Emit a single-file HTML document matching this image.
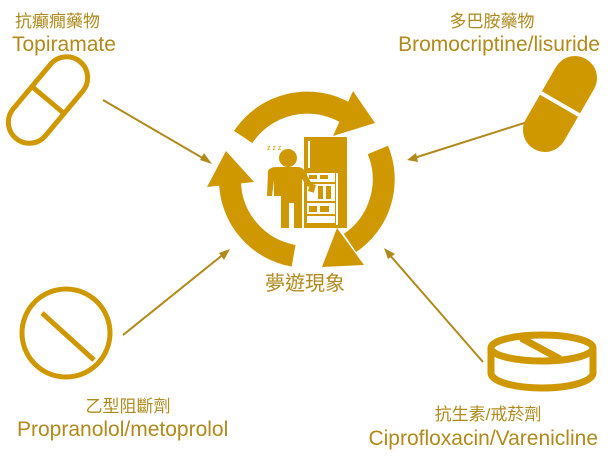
<!DOCTYPE html>
<html><head><meta charset="utf-8"><style>
html,body{margin:0;padding:0;background:#fff;}
svg{display:block;}
text{font-family:"Liberation Sans","Noto Sans CJK TC",sans-serif;fill:#b08a1c;}
</style></head><body>
<svg width="612" height="461" viewBox="0 0 612 461" xmlns="http://www.w3.org/2000/svg">
<g fill="#cf9800" stroke="none">
<!-- cycle arcs (center 307,180 r 77) -->
<path d="M243.2,137 A77,77 0 0 1 346,113" fill="none" stroke="#cf9800" stroke-width="22"/>
<polygon points="353,91 375,123 333,136"/>
<path d="M377.9,149.9 A77,77 0 0 1 350,243" fill="none" stroke="#cf9800" stroke-width="22"/>
<polygon points="337,228 364,265 322,267"/>
<path d="M293.6,255.8 A77,77 0 0 1 230,182" fill="none" stroke="#cf9800" stroke-width="22"/>
<polygon points="207,187 254,182 226,151"/>
<!-- fridge -->
<rect x="304" y="137" width="43" height="91"/>
<rect x="308" y="141" width="2" height="27" fill="#fff"/>
<rect x="307" y="173" width="28" height="50" fill="#fff"/>
<rect x="336" y="173" width="2" height="52" fill="#fff"/>
<rect x="309" y="175" width="8" height="4"/><rect x="320" y="175" width="8" height="4"/>
<rect x="307" y="182" width="28" height="2"/>
<rect x="318" y="186" width="5" height="13"/><rect x="326" y="186" width="5" height="13"/>
<rect x="307" y="201" width="28" height="2"/>
<rect x="309" y="206" width="8" height="6"/><rect x="320" y="206" width="9" height="6"/>
<rect x="307" y="214" width="28" height="2"/>
<!-- person -->
<circle cx="288" cy="158" r="9"/>
<path d="M268,171 Q270,167 276,167 L298,167 Q303,167 305,172 L312,184 L308,187 L302,179 L302,228 L294,228 L294,203 L289,203 L289,228 L281,228 L281,196 L274,196 L274,180 L272,196 L267,196 Z"/>
<rect x="309" y="184" width="6" height="8" transform="rotate(15 312 188)"/>
</g>
<text x="267" y="150" font-size="7" style="fill:#cf9800">z z z</text>
<!-- connectors -->
<g stroke="#b08a1c" stroke-width="2" fill="#b08a1c">
<line x1="103" y1="100" x2="206" y2="160"/>
<line x1="540" y1="118" x2="414" y2="158"/>
<line x1="123" y1="335" x2="225" y2="253"/>
<line x1="483" y1="362" x2="388" y2="253"/>
</g>
<g fill="#b08a1c">
<polygon points="212,164 200,160 204,153"/>
<polygon points="407,160 416,153 418,162"/>
<polygon points="230,249 224,260 219,253"/>
<polygon points="384,248 395,254 388,259"/>
</g>
<!-- top-left capsule -->
<g transform="translate(48,100) rotate(-50)" fill="none" stroke="#cf9800" stroke-width="5">
<rect x="-50" y="-21" width="100" height="42" rx="21"/>
<line x1="0" y1="-21" x2="0" y2="21"/>
</g>
<!-- top-right capsule -->
<g transform="translate(560,104) rotate(-60)">
<rect x="-52" y="-22" width="104" height="44" rx="22" fill="#cf9800"/>
<line x1="0" y1="-23" x2="0" y2="23" stroke="#fff" stroke-width="4"/>
</g>
<!-- bottom-left circle -->
<circle cx="66" cy="333" r="44" fill="none" stroke="#cf9800" stroke-width="5"/>
<line x1="42" y1="313" x2="94" y2="360" stroke="#cf9800" stroke-width="5"/>
<!-- bottom-right disk -->
<g fill="none" stroke="#cf9800" stroke-width="7">
<ellipse cx="542" cy="348" rx="51" ry="13"/>
<path d="M491,348 L491,373 A51,15 0 0 0 593,373 L593,348"/>
<line x1="521" y1="338" x2="560" y2="359"/>
</g>
<!-- labels -->
<text x="15" y="27" font-size="17">抗癲癇藥物</text>
<text x="12" y="51" font-size="21">Topiramate</text>
<text x="492" y="27" font-size="17" text-anchor="middle">多巴胺藥物</text>
<text x="600" y="51" font-size="21" text-anchor="end">Bromocriptine/lisuride</text>
<text x="305" y="290" font-size="20" text-anchor="middle">夢遊現象</text>
<text x="128" y="412" font-size="17" text-anchor="middle">乙型阻斷劑</text>
<text x="17" y="436" font-size="21">Propranolol/metoprolol</text>
<text x="488" y="420" font-size="17" text-anchor="middle">抗生素/戒菸劑</text>
<text x="598" y="445" font-size="21" text-anchor="end">Ciprofloxacin/Varenicline</text>
</svg>
</body></html>
